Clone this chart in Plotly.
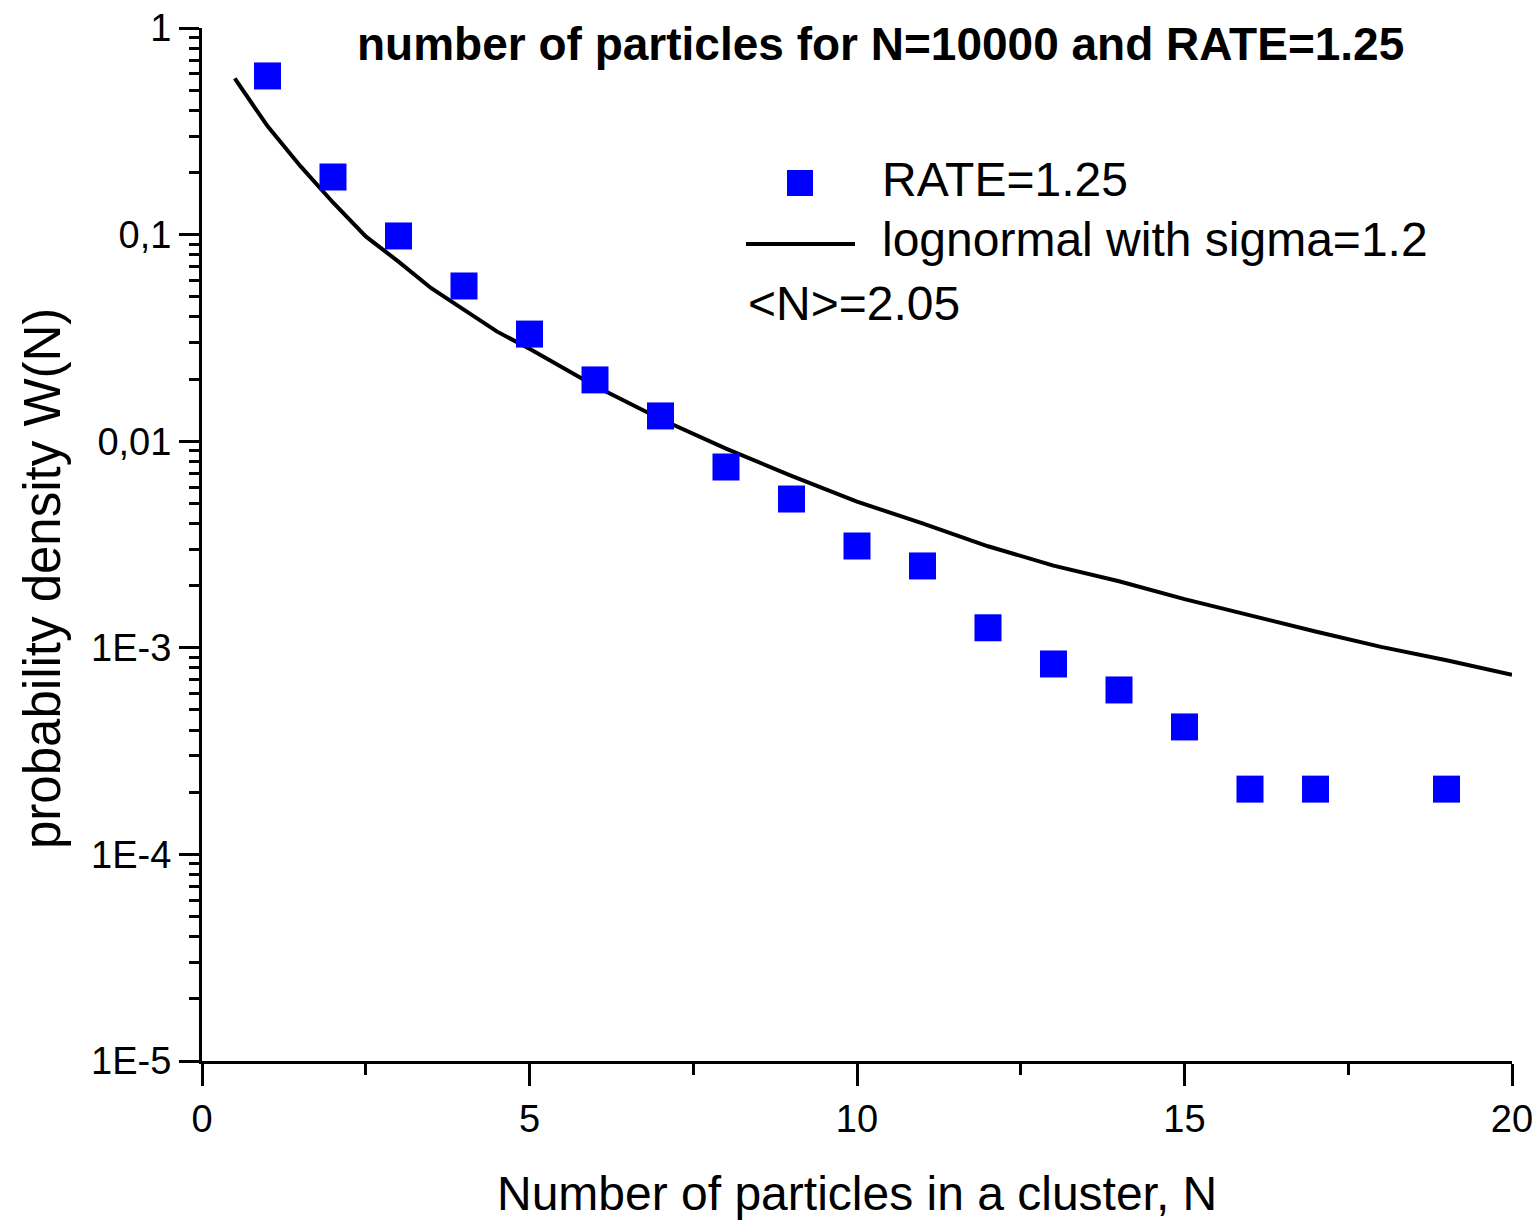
import plotly.graph_objects as go

# ---- data ----
cluster_n = [1, 2, 3, 4, 5, 6, 7, 8, 9, 10, 11, 12, 13, 14, 15, 16, 17, 19]
rate_density = [0.586, 0.19, 0.0985, 0.0564, 0.033, 0.0198, 0.01325, 0.0075,
                0.00525, 0.00311, 0.00249, 0.00125, 0.000835, 0.000625,
                0.000414, 0.000207, 0.000207, 0.000207]

fit_n = [0.5, 1, 1.5, 2, 2.5, 3, 3.5, 4, 4.5, 5, 6, 7, 8, 9, 10, 11, 12, 13,
         14, 15, 16, 17, 18, 19, 20]
fit_density = [0.57, 0.335, 0.215, 0.143, 0.098, 0.074, 0.055, 0.043, 0.034,
               0.028, 0.0185, 0.0128, 0.0092, 0.0068, 0.0051, 0.0040, 0.0031,
               0.0025, 0.0021, 0.00172, 0.00143, 0.00120, 0.00101, 0.00087,
               0.00074]

y_tickvals = [1e-5, 1e-4, 1e-3, 1e-2, 1e-1, 1]
y_ticktext = ["1E-5", "1E-4", "1E-3", "0,01", "0,1", "1"]
x_tickvals = [0, 5, 10, 15, 20]
x_ticktext = ["0", "5", "10", "15", "20"]

series_name = "RATE=1.25"
fit_name = "lognormal with sigma=1.2"
mean_text = "<N>=2.05"
title_line1 = "Distribution of the clusters on the"
title_line2 = "number of particles for N=10000 and RATE=1.25"
x_title = "Number of particles in a cluster, N"
y_title = "probability density W(N)"

FONT = "Liberation Sans, Arial, sans-serif"

fig = go.Figure()
fig.add_trace(go.Scatter(
    x=fit_n, y=fit_density, mode="lines", name=fit_name,
    line=dict(color="black", width=4), showlegend=False, cliponaxis=False))
fig.add_trace(go.Scatter(
    x=cluster_n, y=rate_density, mode="markers", name=series_name,
    marker=dict(symbol="square", size=27, color="#0000FF",
                line=dict(width=0)), showlegend=False, cliponaxis=False))

fig.update_layout(
    width=1540, height=1222,
    margin=dict(l=202, r=28, t=28, b=161, autoexpand=False),
    paper_bgcolor="white", plot_bgcolor="white",
    font=dict(family=FONT, color="black"),
    showlegend=False,
)

fig.update_xaxes(
    range=[0, 20], showgrid=False, zeroline=False, automargin=False,
    showline=True, linecolor="black", linewidth=3,
    ticks="outside", ticklen=22, tickwidth=3, tickcolor="black",
    tickvals=x_tickvals, ticktext=x_ticktext,
    tickfont=dict(size=38, family=FONT),
    minor=dict(ticks="outside", ticklen=11, tickwidth=3, tickcolor="black",
               dtick=2.5, tick0=0, showgrid=False),
)
fig.update_yaxes(
    type="log", range=[-5, 0], showgrid=False, zeroline=False, automargin=False,
    showline=True, linecolor="black", linewidth=3,
    ticks="outside", ticklen=20, tickwidth=3, tickcolor="black",
    tickvals=y_tickvals, ticktext=y_ticktext,
    tickfont=dict(size=38, family=FONT),
    minor=dict(ticks="outside", ticklen=10, tickwidth=3, tickcolor="black",
               dtick="D1", showgrid=False),
)

# convert pixel positions to paper coords
L, R, T, B = 202, 1512, 28, 1061
def px(xp):
    return (xp - L) / (R - L)
def py(yp):
    return (B - yp) / (B - T)

anns = [
    dict(text="<b>" + title_line1 + "</b>", x=px(880), y=py(-17),
         xanchor="center", yanchor="middle", font=dict(size=46)),
    dict(text="<b>" + title_line2 + "</b>", x=px(880), y=py(44),
         xanchor="center", yanchor="middle", font=dict(size=46)),
    dict(text=series_name, x=px(880), y=py(179), xanchor="left",
         yanchor="middle", font=dict(size=48)),
    dict(text=fit_name, x=px(880), y=py(240), xanchor="left",
         yanchor="middle", font=dict(size=48)),
    dict(text=mean_text.replace("<", "&lt;").replace(">", "&gt;"),
         x=px(746), y=py(303), xanchor="left", yanchor="middle",
         font=dict(size=48)),
    dict(text=x_title, x=0.5, y=py(1193), xanchor="center",
         yanchor="middle", font=dict(size=48)),
    dict(text=y_title, x=px(42), y=py(579), xanchor="center",
         yanchor="middle", textangle=-90, font=dict(size=51)),
]
for a in anns:
    a.update(xref="paper", yref="paper", showarrow=False)
    a["font"] = dict(family=FONT, color="black", size=a["font"]["size"])
fig.update_layout(annotations=anns)

# legend symbols
fig.add_shape(type="rect", xref="paper", yref="paper",
              x0=px(787), x1=px(813), y0=py(170), y1=py(196),
              fillcolor="#0000FF", line=dict(width=0))
fig.add_shape(type="line", xref="paper", yref="paper",
              x0=px(746), x1=px(855), y0=py(244), y1=py(244),
              line=dict(color="black", width=4))

fig.write_html("out.html")
